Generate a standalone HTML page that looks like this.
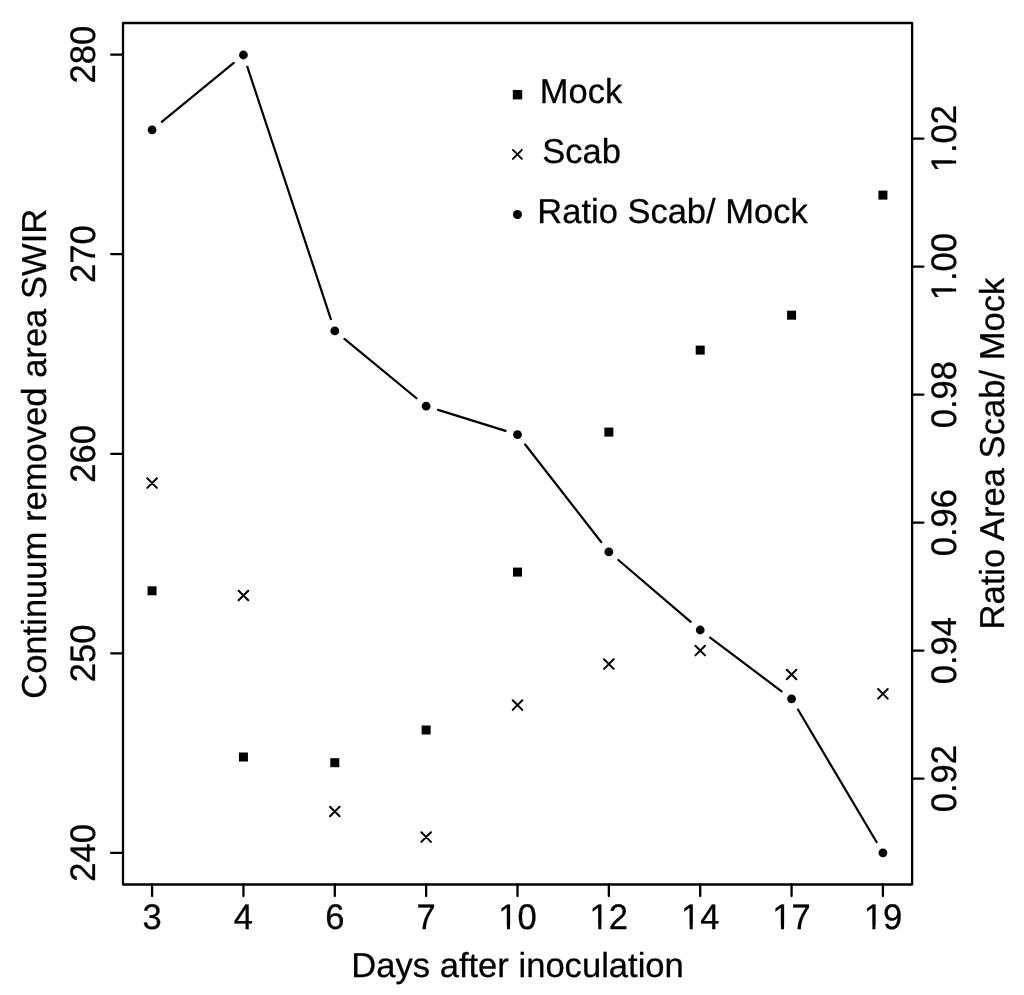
<!DOCTYPE html><html><head><meta charset="utf-8"><style>html,body{margin:0;padding:0;background:#fff;overflow:hidden;}svg{display:block;}text{font-family:"Liberation Sans",Arial,Helvetica,sans-serif;fill:#000;stroke:#000;stroke-width:0.28px;}</style></head><body>
<svg width="1024" height="995" viewBox="0 0 1024 995" text-rendering="geometricPrecision">
<rect x="0" y="0" width="1024" height="995" fill="#fff"/>
<path d="M123.0 23.0H912.1V884.5H123.0Z" stroke="#000" stroke-width="2.3" fill="none" stroke-linejoin="round"/>
<path d="M152.08 884.5V896.05M243.44 884.5V896.05M334.79 884.5V896.05M426.14 884.5V896.05M517.50 884.5V896.05M608.86 884.5V896.05M700.21 884.5V896.05M791.57 884.5V896.05M882.92 884.5V896.05M111.15 852.9H123.0M111.15 653.3H123.0M111.15 453.8H123.0M111.15 254.2H123.0M111.15 54.7H123.0M912.1 778.7H923.45M912.1 650.6H923.45M912.1 522.6H923.45M912.1 394.6H923.45M912.1 266.6H923.45M912.1 138.6H923.45" stroke="#000" stroke-width="2.3" fill="none" stroke-linecap="round"/>
<g font-size="34.6" text-anchor="middle">
<text x="152.08" y="929" font-size="35.465" textLength="19.243" lengthAdjust="spacingAndGlyphs">3</text>
<text x="243.44" y="929" font-size="35.465" textLength="19.243" lengthAdjust="spacingAndGlyphs">4</text>
<text x="334.79" y="929" font-size="35.465" textLength="19.243" lengthAdjust="spacingAndGlyphs">6</text>
<text x="426.14" y="929" font-size="35.465" textLength="19.243" lengthAdjust="spacingAndGlyphs">7</text>
<text x="517.50" y="929" font-size="35.465" textLength="38.486" lengthAdjust="spacingAndGlyphs">10</text>
<text x="608.86" y="929" font-size="35.465" textLength="38.486" lengthAdjust="spacingAndGlyphs">12</text>
<text x="700.21" y="929" font-size="35.465" textLength="38.486" lengthAdjust="spacingAndGlyphs">14</text>
<text x="791.57" y="929" font-size="35.465" textLength="38.486" lengthAdjust="spacingAndGlyphs">17</text>
<text x="882.92" y="929" font-size="35.465" textLength="38.486" lengthAdjust="spacingAndGlyphs">19</text>
<text transform="translate(94.6 852.9) rotate(-90)" font-size="35.465" textLength="57.729" lengthAdjust="spacingAndGlyphs">240</text>
<text transform="translate(94.6 653.3) rotate(-90)" font-size="35.465" textLength="57.729" lengthAdjust="spacingAndGlyphs">250</text>
<text transform="translate(94.6 453.8) rotate(-90)" font-size="35.465" textLength="57.729" lengthAdjust="spacingAndGlyphs">260</text>
<text transform="translate(94.6 254.2) rotate(-90)" font-size="35.465" textLength="57.729" lengthAdjust="spacingAndGlyphs">270</text>
<text transform="translate(94.6 54.7) rotate(-90)" font-size="35.465" textLength="57.729" lengthAdjust="spacingAndGlyphs">280</text>
<text transform="translate(955.7 778.7) rotate(-90)" font-size="35.465" textLength="67.342" lengthAdjust="spacingAndGlyphs">0.92</text>
<text transform="translate(955.7 650.6) rotate(-90)" font-size="35.465" textLength="67.342" lengthAdjust="spacingAndGlyphs">0.94</text>
<text transform="translate(955.7 522.6) rotate(-90)" font-size="35.465" textLength="67.342" lengthAdjust="spacingAndGlyphs">0.96</text>
<text transform="translate(955.7 394.6) rotate(-90)" font-size="35.465" textLength="67.342" lengthAdjust="spacingAndGlyphs">0.98</text>
<text transform="translate(955.7 266.6) rotate(-90)" font-size="35.465" textLength="67.342" lengthAdjust="spacingAndGlyphs">1.00</text>
<text transform="translate(955.7 138.6) rotate(-90)" font-size="35.465" textLength="67.342" lengthAdjust="spacingAndGlyphs">1.02</text>
<text x="517.55" y="977">Days after inoculation</text>
<text transform="translate(45.6 453.8) rotate(-90)">Continuum removed area SWIR</text>
<text transform="translate(1003.6 453.6) rotate(-90)">Ratio Area Scab/ Mock</text>
</g>
<rect x="498.95" y="925.40" width="7.99" height="5.1" fill="#fff"/><rect x="509.99" y="925.40" width="7.65" height="5.1" fill="#fff"/><rect x="590.30" y="925.40" width="7.99" height="5.1" fill="#fff"/><rect x="601.34" y="925.40" width="7.65" height="5.1" fill="#fff"/><rect x="681.66" y="925.40" width="7.99" height="5.1" fill="#fff"/><rect x="692.70" y="925.40" width="7.65" height="5.1" fill="#fff"/><rect x="773.01" y="925.40" width="7.99" height="5.1" fill="#fff"/><rect x="784.05" y="925.40" width="7.65" height="5.1" fill="#fff"/><rect x="864.37" y="925.40" width="7.99" height="5.1" fill="#fff"/><rect x="875.41" y="925.40" width="7.65" height="5.1" fill="#fff"/><rect x="952.10" y="291.59" width="5.1" height="7.99" fill="#fff"/><rect x="952.10" y="280.89" width="5.1" height="7.65" fill="#fff"/><rect x="952.10" y="163.59" width="5.1" height="7.99" fill="#fff"/><rect x="952.10" y="152.89" width="5.1" height="7.65" fill="#fff"/>
<path d="M161.75 121.88L233.76 62.92M247.36 66.87L330.86 319.03M344.44 338.85L416.50 398.25M438.08 409.91L505.56 430.89M525.18 444.46L601.17 542.04M618.36 560.02L690.71 621.88M710.20 637.52L781.58 691.28M797.94 709.55L876.54 842.05" stroke="#000" stroke-width="2.2" fill="none" stroke-linecap="round"/>
<circle cx="152.08" cy="129.8" r="4.4" fill="#000"/>
<circle cx="243.44" cy="55.0" r="4.4" fill="#000"/>
<circle cx="334.79" cy="330.9" r="4.4" fill="#000"/>
<circle cx="426.14" cy="406.2" r="4.4" fill="#000"/>
<circle cx="517.50" cy="434.6" r="4.4" fill="#000"/>
<circle cx="608.86" cy="551.9" r="4.4" fill="#000"/>
<circle cx="700.21" cy="630.0" r="4.4" fill="#000"/>
<circle cx="791.57" cy="698.8" r="4.4" fill="#000"/>
<circle cx="882.92" cy="852.8" r="4.4" fill="#000"/>
<rect x="147.58" y="586.30" width="9.0" height="9.0" fill="#000"/>
<rect x="238.94" y="752.50" width="9.0" height="9.0" fill="#000"/>
<rect x="330.29" y="758.20" width="9.0" height="9.0" fill="#000"/>
<rect x="421.64" y="725.50" width="9.0" height="9.0" fill="#000"/>
<rect x="513.00" y="567.60" width="9.0" height="9.0" fill="#000"/>
<rect x="604.36" y="427.60" width="9.0" height="9.0" fill="#000"/>
<rect x="695.71" y="345.60" width="9.0" height="9.0" fill="#000"/>
<rect x="787.07" y="310.70" width="9.0" height="9.0" fill="#000"/>
<rect x="878.42" y="190.60" width="9.0" height="9.0" fill="#000"/>
<path d="M147.28 478.27L156.88 487.87M147.28 487.87L156.88 478.27M238.63 590.70L248.24 600.30M238.63 600.30L248.24 590.70M329.99 806.70L339.59 816.30M329.99 816.30L339.59 806.70M421.34 832.30L430.94 841.90M421.34 841.90L430.94 832.30M512.70 700.25L522.30 709.85M512.70 709.85L522.30 700.25M604.06 659.30L613.65 668.90M604.06 668.90L613.65 659.30M695.41 645.80L705.01 655.40M695.41 655.40L705.01 645.80M786.77 669.70L796.37 679.30M786.77 679.30L796.37 669.70M878.12 689.00L887.72 698.60M878.12 698.60L887.72 689.00" stroke="#000" stroke-width="2.0" fill="none" stroke-linecap="round"/>
<rect x="512.80" y="90.00" width="9.4" height="9.4" fill="#000"/>
<path d="M512.90 149.90L521.90 158.90M512.90 158.90L521.90 149.90" stroke="#000" stroke-width="1.9" fill="none" stroke-linecap="round"/>
<circle cx="517.45" cy="214.45" r="4.5" fill="#000"/>
<g font-size="34.5">
<text x="539.85" y="103">Mock</text>
<text x="542.35" y="163">Scab</text>
<text x="537.3" y="223">Ratio Scab/ Mock</text>
</g>
</svg></body></html>
